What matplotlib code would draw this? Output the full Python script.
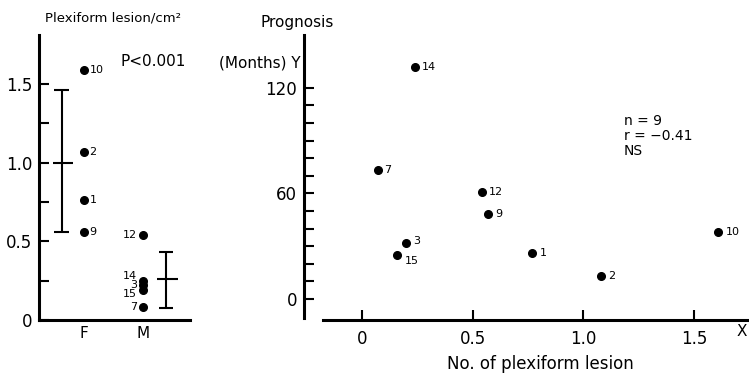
import matplotlib
matplotlib.use("Agg")
import matplotlib.pyplot as plt
from matplotlib.ticker import FixedLocator

# ---- data ----
groups = ["F", "M"]
f_ids = ["10", "2", "1", "9"]
f_vals = [1.59, 1.07, 0.76, 0.56]
m_ids = ["12", "14", "3", "15", "7"]
m_vals = [0.54, 0.25, 0.22, 0.19, 0.08]
group_mean = [1.00, 0.26]
group_low = [0.557, 0.076]
group_high = [1.46, 0.43]

patient_ids = ["14", "7", "12", "9", "3", "15", "1", "2", "10"]
lesion_no = [0.24, 0.07, 0.54, 0.57, 0.20, 0.16, 0.77, 1.08, 1.61]
prognosis = [132, 73, 61, 48, 32, 25, 26, 13, 38]

left_yticks = [0, 0.5, 1.0, 1.5]
left_yticklabels = ["0", "0.5", "1.0", "1.5"]
left_minor = [0.25, 0.75, 1.25]
right_xticks = [0, 0.5, 1.0, 1.5]
right_xticklabels = ["0", "0.5", "1.0", "1.5"]
right_yticks = [0, 60, 120]
right_minor = [10, 20, 30, 40, 50, 70, 80, 90, 100, 110]

W, H = 749, 374
NUM = ["DejaVu Sans"]
TXT = ["DejaVu Sans"]

fig = plt.figure(figsize=(W / 100, H / 100), dpi=100)
fig.patch.set_facecolor("white")

def px(x, y):
    return x / W, 1 - y / H

# ---------- left panel ----------
ax1 = fig.add_axes([39 / W, 1 - 320 / H, (190 - 39) / W, (320 - 35) / H])
ax1.set_xlim(0.237, 2.8)
ax1.set_ylim(0, 1.81)
for s in ["top", "right"]:
    ax1.spines[s].set_visible(False)
for s in ["left", "bottom"]:
    ax1.spines[s].set_linewidth(2.2)
ax1.set_xticks([1, 2])
ax1.set_xticklabels(groups, fontsize=11, family=TXT)
ax1.tick_params(axis="x", length=0, pad=4)
ax1.yaxis.set_major_locator(FixedLocator(left_yticks))
ax1.set_yticklabels(left_yticklabels, fontsize=12, family=NUM)
ax1.yaxis.set_minor_locator(FixedLocator(left_minor))
ax1.tick_params(axis="y", which="both", direction="in", length=7, width=1.5, pad=5)

ax1.plot([1] * len(f_vals), f_vals, "o", color="black", ms=5.5)
ax1.plot([2] * len(m_vals), m_vals, "o", color="black", ms=5.5)
for i, v in zip(f_ids, f_vals):
    ax1.annotate(i, (1, v), xytext=(4, 0), textcoords="offset points",
                 fontsize=8, va="center", ha="left", family=NUM)
m_label_dy = [0, 3, 0, -3, 0]
for i, v, dy in zip(m_ids, m_vals, m_label_dy):
    ax1.annotate(i, (2, v), xytext=(-4, dy), textcoords="offset points",
                 fontsize=8, va="center", ha="right", family=NUM)

bar_x = [0.62, 2.39]
for bx, mn, lo, hi in zip(bar_x, group_mean, group_low, group_high):
    ax1.vlines(bx, lo, hi, color="black", lw=1.5)
    ax1.hlines([lo, hi], bx - 0.12, bx + 0.12, color="black", lw=1.5)
    ax1.hlines(mn, bx - 0.15, bx + 0.2, color="black", lw=1.5)

fig.text(*px(45, 18), "Plexiform lesion/cm²", fontsize=9.5, va="center", ha="left", family=TXT)
fig.text(*px(120, 62), "P<0.001", fontsize=11, va="center", ha="left", family=TXT)

# ---------- right panel ----------
ax2 = fig.add_axes([304 / W, 1 - 320 / H, (749 - 304) / W, (320 - 35) / H])
ax2.set_xlim(-0.262, 1.748)
ax2.set_ylim(-11.9, 149.9)
for s in ["top", "right"]:
    ax2.spines[s].set_visible(False)
for s in ["left", "bottom"]:
    ax2.spines[s].set_linewidth(2.2)
ax2.spines["bottom"].set_bounds(-0.176, 1.748)
ax2.spines["left"].set_bounds(-10.8, 149.9)
ax2.xaxis.set_major_locator(FixedLocator(right_xticks))
ax2.set_xticklabels(right_xticklabels, fontsize=12, family=NUM)
ax2.tick_params(axis="x", direction="in", length=7, width=1.5, pad=7)
ax2.yaxis.set_major_locator(FixedLocator(right_yticks))
ax2.set_yticklabels([str(t) for t in right_yticks], fontsize=12, family=NUM)
ax2.yaxis.set_minor_locator(FixedLocator(right_minor))
ax2.tick_params(axis="y", which="both", direction="in", length=7, width=1.5, pad=5)

ax2.plot(lesion_no, prognosis, "o", color="black", ms=5.5)
for i, xv, yv in zip(patient_ids, lesion_no, prognosis):
    dy = -4 if i == "15" else (1 if i == "3" else 0)
    ax2.annotate(i, (xv, yv), xytext=(5, dy), textcoords="offset points",
                 fontsize=8, va="center", ha="left", family=NUM)

fig.text(*px(260, 23), "Prognosis", fontsize=11, va="center", ha="left", family=TXT)
fig.text(*px(301, 63), "(Months) Y", fontsize=11, va="center", ha="right", family=TXT)
fig.text(*px(624, 114), "n = 9\nr = −0.41\nNS", fontsize=10, va="top", ha="left",
         family=TXT, linespacing=1.1)
fig.text(*px(540, 364), "No. of plexiform lesion", fontsize=12, va="center", ha="center", family=TXT)
fig.text(*px(737, 332), "X", fontsize=11, va="center", ha="left", family=TXT)

fig.savefig("out.png", dpi=100, facecolor="white")
